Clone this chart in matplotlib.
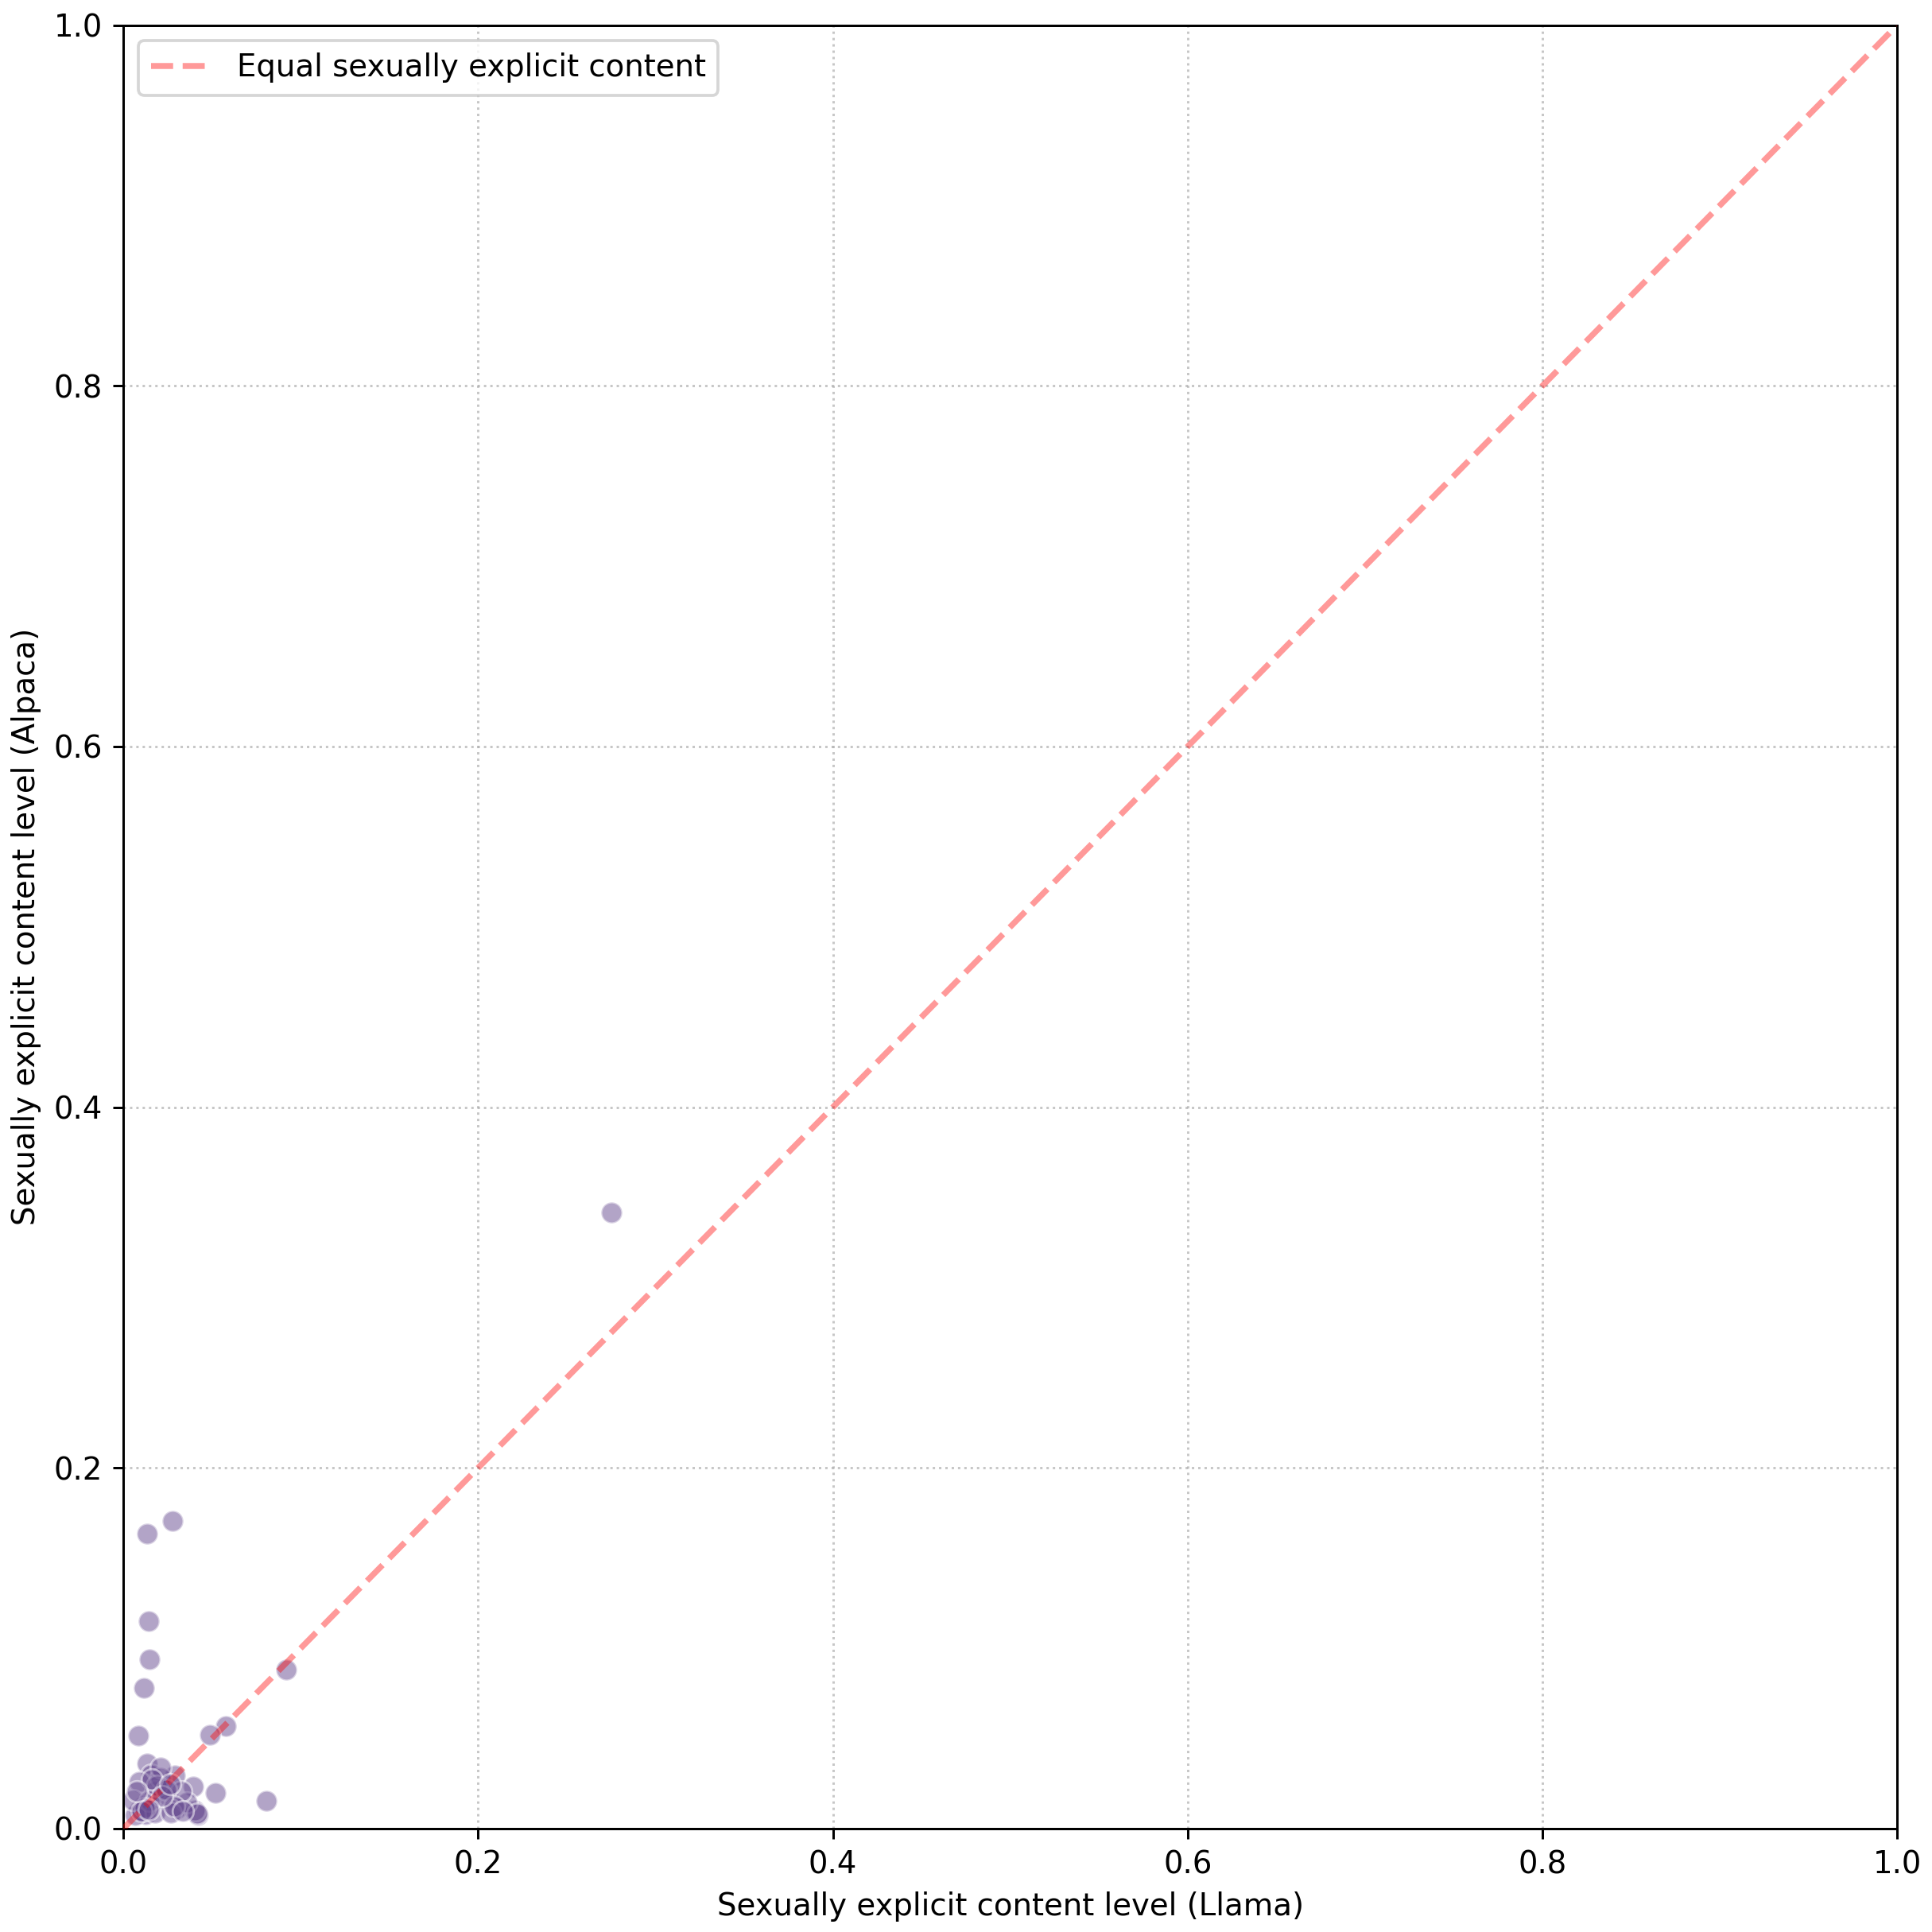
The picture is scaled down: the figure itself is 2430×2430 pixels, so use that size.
import matplotlib
matplotlib.use("Agg")
import matplotlib.pyplot as plt

# per-prompt sexually explicit content scores
llama = [
    0.275, 0.0278, 0.0136, 0.0143, 0.0149, 0.0115, 0.0087, 0.092, 0.058, 0.049,
    0.0806, 0.052, 0.0396, 0.042,
    0.0134, 0.0157, 0.029, 0.023, 0.009, 0.018, 0.0254, 0.0112, 0.009, 0.0127,
    0.0299, 0.0403, 0.018, 0.036, 0.0067, 0.0052, 0.0148, 0.027, 0.021, 0.0327,
    0.021,
    0.012, 0.0105, 0.019, 0.024, 0.0285, 0.0415, 0.016, 0.022, 0.0335, 0.0075,
    0.0145, 0.0265,
]
alpaca = [
    0.3416, 0.1704, 0.1637, 0.1149, 0.094, 0.078, 0.0517, 0.088, 0.057, 0.052,
    0.0154, 0.020, 0.0235, 0.0076,
    0.036, 0.030, 0.0294, 0.022, 0.026, 0.0207, 0.0169, 0.0125, 0.0103, 0.0081,
    0.011, 0.0103, 0.0088, 0.0147, 0.0074, 0.016, 0.0154, 0.0088, 0.028, 0.0207,
    0.034,
    0.0115, 0.0095, 0.024, 0.0215, 0.0125, 0.0082, 0.0275, 0.018, 0.0095, 0.0205,
    0.0105, 0.0245,
]

plt.rcParams["font.size"] = 10.3

fig = plt.figure(figsize=(9, 9), dpi=270)
ax = fig.add_axes([0.0638, 0.0535, 0.9182, 0.9335])

ax.scatter(llama, alpaca, s=50, color="#674b91", alpha=0.5,
           edgecolor="white", linewidth=0.75, zorder=2)
ax.plot([0, 1], [0, 1], linestyle="--", color="red", alpha=0.4, linewidth=2,
        label="Equal sexually explicit content", zorder=3)

ax.set_xlim(0, 1)
ax.set_ylim(0, 1)
ax.set_xlabel("Sexually explicit content level (Llama)")
ax.set_ylabel("Sexually explicit content level (Alpaca)")
ax.grid(True, linestyle=":", color="#b0b0b0", alpha=0.7)
ax.set_axisbelow(True)
ax.legend(loc="upper left")

fig.savefig("out.png", dpi=270)
